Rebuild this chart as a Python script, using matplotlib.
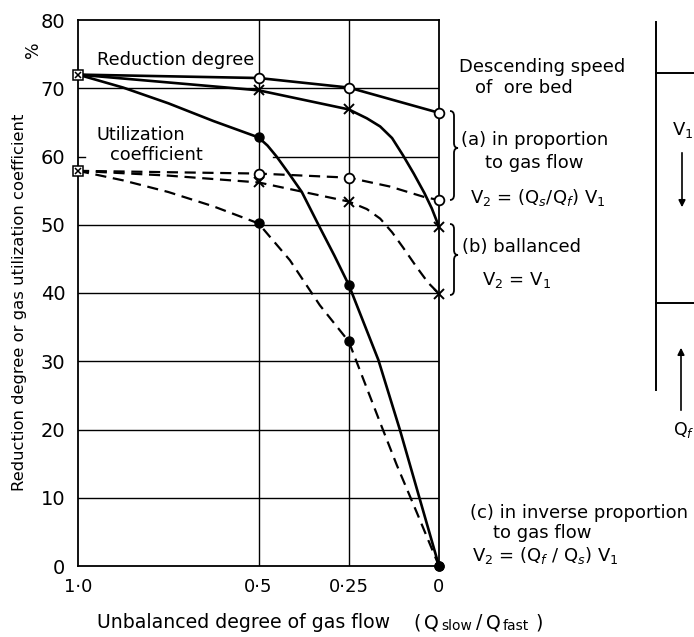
import matplotlib
matplotlib.use("Agg")
import matplotlib.pyplot as plt
from matplotlib.path import Path
from matplotlib.patches import PathPatch

# ---------------- data ----------------
x_pts = [1.0, 0.5, 0.25, 0.0]
x_tick_labels = ["1·0", "0·5", "0·25", "0"]
y_ticks = [0, 10, 20, 30, 40, 50, 60, 70, 80]

# measured points (markers)
red_a = [72.0, 71.5, 70.1, 66.4]     # (a) open circles
red_b = [72.0, 69.7, 66.9, 49.7]     # (b) crosses
red_c = [72.0, 62.8, 41.2, 0.0]      # (c) filled dots
util_a = [57.9, 57.5, 56.9, 53.6]
util_b = [57.9, 56.2, 53.4, 39.9]
util_c = [57.9, 50.2, 32.9, 0.0]

# traced curve paths
red_a_tx = [1.0, 0.5, 0.25, 0.0]
red_a_ty = [72.0, 71.5, 70.1, 66.4]
red_b_tx = [1.0, 0.5, 0.25, 0.2, 0.163, 0.13, 0.1, 0.07, 0.04, 0.02, 0.0]
red_b_ty = [72.0, 69.7, 66.9, 65.6, 64.4, 62.7, 60.2, 57.5, 54.6, 52.4, 49.7]
red_c_tx = [1.0, 0.875, 0.75, 0.625, 0.5, 0.475, 0.45, 0.413, 0.38, 0.334, 0.29, 0.25,
            0.168, 0.108, 0.057, 0.0]
red_c_ty = [72.0, 70.1, 67.8, 65.2, 62.8, 61.6, 60.0, 57.3, 54.8, 50.0, 45.5, 41.2,
            30.2, 19.9, 10.5, 0.0]
util_a_tx = [1.0, 0.5, 0.25, 0.136, 0.043, 0.0]
util_a_ty = [57.9, 57.5, 56.9, 55.6, 54.1, 53.6]
util_b_tx = [1.0, 0.75, 0.5, 0.25, 0.2, 0.163, 0.13, 0.1, 0.062, 0.03, 0.0]
util_b_ty = [57.9, 57.2, 56.2, 53.4, 52.3, 50.9, 48.9, 46.7, 43.8, 41.5, 39.9]
util_c_tx = [1.0, 0.875, 0.75, 0.625, 0.5, 0.413, 0.33, 0.25, 0.163, 0.117, 0.062, 0.0]
util_c_ty = [57.9, 56.5, 54.8, 52.7, 50.2, 44.8, 38.2, 32.9, 21.0, 14.8, 7.9, 0.0]

W, H = 694, 637
FONT = "DejaVu Sans"
plt.rcParams['font.family'] = [FONT]

fig = plt.figure(figsize=(W / 100, H / 100), dpi=100)
fig.patch.set_facecolor("white")

L, R, T, B = 78, 439, 20, 566
ax = fig.add_axes([L / W, 1 - B / H, (R - L) / W, (B - T) / H])
ax.set_xlim(1.0, 0.0)
ax.set_ylim(0, 80)
for s in ax.spines.values():
    s.set_linewidth(1.3)
    s.set_color("black")

# grid
for yv in y_ticks[1:-1]:
    if yv == 60:
        ax.plot([0.46, 0.0], [yv, yv], color="black", lw=1.0, zorder=1)
        ax.plot([1.0, 0.98], [yv, yv], color="black", lw=1.0, zorder=1)
    else:
        ax.axhline(yv, color="black", lw=1.0, zorder=1)
for xv in x_pts[1:-1]:
    ax.axvline(xv, color="black", lw=1.0, zorder=1)

ax.set_xticks(x_pts)
ax.set_xticklabels(x_tick_labels, fontsize=13)
ax.set_yticks(y_ticks)
ax.set_yticklabels([str(v) for v in y_ticks], fontsize=14)
ax.tick_params(length=0, pad=9)

lw_s, lw_d = 1.9, 1.6
ds = (5, 3)
ax.plot(red_a_tx, red_a_ty, color="black", lw=lw_s, zorder=3)
ax.plot(red_b_tx, red_b_ty, color="black", lw=lw_s, zorder=3)
ax.plot(red_c_tx, red_c_ty, color="black", lw=lw_s, zorder=3)
ax.plot(util_a_tx, util_a_ty, color="black", lw=lw_d, ls=(0, ds), zorder=3)
ax.plot(util_b_tx, util_b_ty, color="black", lw=lw_d, ls=(0, ds), zorder=3)
ax.plot(util_c_tx, util_c_ty, color="black", lw=lw_d, ls=(0, ds), zorder=3)

for ys in (red_a, util_a):
    ax.plot(x_pts[1:], ys[1:], ls="none", marker="o", ms=7, mfc="white", mec="black", mew=1.3, zorder=5, clip_on=False)
for ys in (red_b, util_b):
    ax.plot(x_pts[1:], ys[1:], ls="none", marker="x", ms=6.5, mec="black", mew=1.4, zorder=5, clip_on=False)
for ys in (red_c, util_c):
    ax.plot(x_pts[1:], ys[1:], ls="none", marker="o", ms=6.5, mfc="black", mec="black", zorder=5, clip_on=False)
for ys in (red_a, util_a):
    ax.plot(x_pts[:1], ys[:1], ls="none", marker="s", ms=7, mfc="white", mec="black", mew=1.1, zorder=5, clip_on=False)
    ax.plot(x_pts[:1], ys[:1], ls="none", marker="x", ms=5, mec="black", mew=1.1, zorder=6, clip_on=False)

# ---------------- overlay in pixel coordinates ----------------
ov = fig.add_axes([0, 0, 1, 1], facecolor="none")
ov.set_xlim(0, W)
ov.set_ylim(H, 0)
ov.axis("off")

def txt(x, y, s, fs=13, **kw):
    ov.text(x, y, s, fontsize=fs, va="center", ha=kw.pop("ha", "left"), **kw)

# axis titles
txt(20, 302, "Reduction degree or gas utilization coefficient", fs=11.8, rotation=90, ha="center")
txt(33, 50, "%", fs=12.5, rotation=90, ha="center")
txt(97, 623, "Unbalanced degree of gas flow", fs=13.6)
txt(413, 623, "(", fs=13.6)
txt(424, 623, "Q", fs=13.6)
txt(441, 626, "slow", fs=10)
txt(476, 623, "/", fs=13.6)
txt(486, 623, "Q", fs=13.6)
txt(503, 626, "fast", fs=10)
txt(535, 623, ")", fs=13.6)

txt(97, 60, "Reduction degree", fs=12.8)
txt(97, 135, "Utilization", fs=12.8)
txt(110, 155, "coefficient", fs=12.8)

txt(459, 67, "Descending speed")
txt(475, 88, "of  ore bed")
txt(461, 140, "(a) in proportion")
txt(485, 163, "to gas flow")
txt(470, 198, "V$_2$ = (Q$_s$/Q$_f$) V$_1$")
txt(462, 247, "(b) ballanced")
txt(482, 280, "V$_2$ = V$_1$")
txt(470, 513, "(c) in inverse proportion")
txt(493, 533, "to gas flow")
txt(472, 555, "V$_2$ = (Q$_f$ / Q$_s$) V$_1$")

def brace(x0, y1, y2, ym, w=8, r=5):
    xm = x0 + w / 2
    verts = [(x0, y1), (xm, y1), (xm, y1 + r), (xm, ym - r), (xm, ym), (x0 + w, ym),
             (xm, ym), (xm, ym + r), (xm, y2 - r), (xm, y2), (x0, y2)]
    codes = [Path.MOVETO, Path.CURVE3, Path.CURVE3, Path.LINETO, Path.CURVE3, Path.CURVE3,
             Path.CURVE3, Path.CURVE3, Path.LINETO, Path.CURVE3, Path.CURVE3]
    ov.add_patch(PathPatch(Path(verts, codes), fill=False, lw=1.3, color="black"))

brace(450, 111, 200, 148)
brace(450, 224, 295, 255)

# right-hand sketch
ov.plot([656, 656], [22, 390], color="black", lw=1.4)
ov.plot([656, 694], [73, 73], color="black", lw=1.4)
ov.plot([656, 694], [303, 303], color="black", lw=1.4)
txt(683, 130, "V$_1$", ha="center")
ov.annotate("", xy=(682, 210), xytext=(682, 150),
            arrowprops=dict(arrowstyle="-|>", color="black", lw=1.2, mutation_scale=10))
ov.annotate("", xy=(681, 345), xytext=(681, 413),
            arrowprops=dict(arrowstyle="-|>", color="black", lw=1.2, mutation_scale=10))
txt(673, 430, "Q$_f$", fs=12.5)

fig.savefig("out.png", dpi=100, facecolor="white")
